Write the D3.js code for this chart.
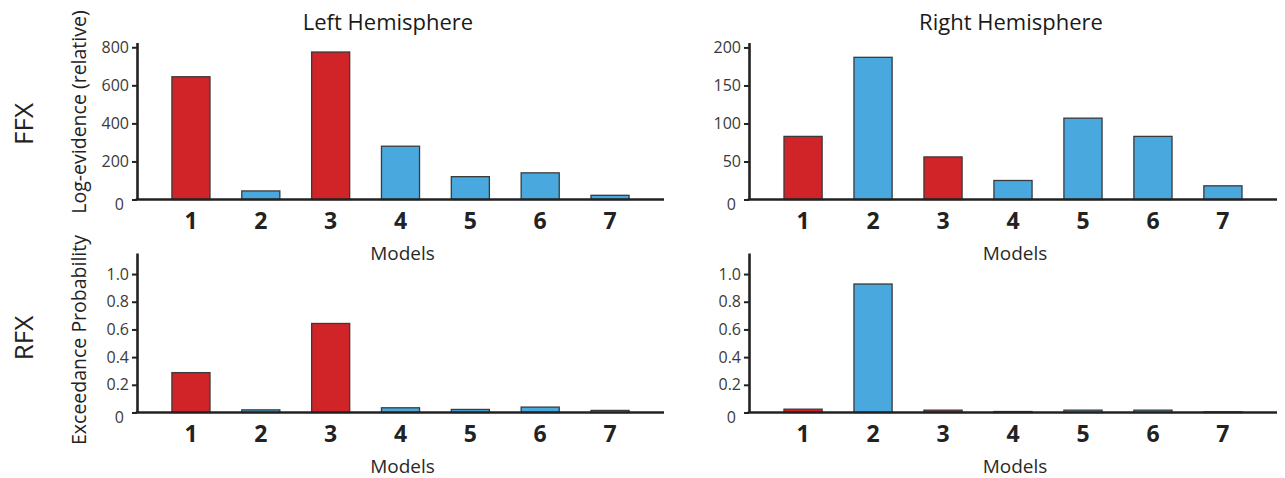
<!DOCTYPE html>
<html>
<head>
<meta charset="utf-8">
<script src="https://cdn.jsdelivr.net/npm/d3@7"></script>
<style>
  body { margin: 0; background: #fff; }
  svg text { font-family: "Open Sans", sans-serif; }
</style>
</head>
<body>
<script>
/* Chart data */
var models = ["1", "2", "3", "4", "5", "6", "7"];
var modelFamily = ["A", "B", "A", "B", "B", "B", "B"];

var ffxLeft = [645, 45, 775, 280, 120, 140, 22];
var ffxRight = [83, 187, 56, 25, 107, 83, 18];
var rfxLeft = [0.288, 0.019, 0.643, 0.034, 0.022, 0.039, 0.015];
var rfxRight = [0.024, 0.928, 0.017, 0.007, 0.017, 0.017, 0.005];

var ffxLeftTicks = [0, 200, 400, 600, 800];
var ffxRightTicks = [0, 50, 100, 150, 200];
var rfxTicks = [0, 0.2, 0.4, 0.6, 0.8, 1.0];

var columnTitles = ["Left Hemisphere", "Right Hemisphere"];
var rowTitles = ["FFX", "RFX"];
var rowAxisTitles = ["Log-evidence (relative)", "Exceedance Probability"];
var xTitle = "Models";

/* Size of svg and panel geometry */
var width = 1285;
var height = 478;
var colX = [[137, 664], [749, 1277]];   // left / right edge of each column
var rowY = [[199.5, 42.5], [412.5, 253]];  // baseline / axis top of each row
var titleX = [388, 1011];

var colour = d3.scaleOrdinal()
                .domain(["A", "B"])
                .range(["#d02428", "#49a9df"]);

var svg = d3.select("body").append("svg")
            .attr("width", width)
            .attr("height", height);

var panels = [
  {row: 0, col: 0, values: ffxLeft, ticks: ffxLeftTicks, max: 825},
  {row: 0, col: 1, values: ffxRight, ticks: ffxRightTicks, max: 206.5},
  {row: 1, col: 0, values: rfxLeft, ticks: rfxTicks, max: 1.152},
  {row: 1, col: 1, values: rfxRight, ticks: rfxTicks, max: 1.152}
];

function tickText(d) {
  if (d === 0) return "0";
  if (d < 1.5) return d3.format(".1f")(d);
  return d;
}

panels.forEach(function(p) {
  var x0 = colX[p.col][0], x1 = colX[p.col][1];
  var base = rowY[p.row][0], top = rowY[p.row][1];

  var x = d3.scaleBand()
            .domain(models)
            .range([x0, x1])
            .paddingInner(0.455)
            .paddingOuter(0.5);

  var y = d3.scaleLinear()
            .domain([0, p.max])
            .range([base, top]);

  var g = svg.append("g");

  /* bars */
  g.selectAll(".bar")
    .data(p.values)
    .enter()
    .append("rect")
    .attr("class", "bar")
    .attr("x", function(d, i) { return x(models[i]); })
    .attr("width", x.bandwidth())
    .attr("y", function(d) { return y(d); })
    .attr("height", function(d) { return base - y(d); })
    .attr("fill", function(d, i) { return colour(modelFamily[i]); })
    .attr("stroke", "#3a3a3a")
    .attr("stroke-width", 1.3);

  /* y axis */
  var yAxis = g.append("g")
               .attr("transform", "translate(" + x0 + ",0)")
               .call(d3.axisLeft(y)
                       .tickValues(p.ticks)
                       .tickFormat(tickText)
                       .tickSizeInner(5)
                       .tickSizeOuter(0)
                       .tickPadding(3));
  yAxis.select(".domain").attr("stroke", "#222").attr("stroke-width", 2.6);
  yAxis.selectAll(".tick line").attr("stroke", "#222").attr("stroke-width", 2);
  yAxis.selectAll(".tick text")
       .attr("font-size", 16)
       .attr("fill", "#3a3a3a")
       .style("font-family", "'Open Sans', sans-serif");
  // the zero label sits a little lower and apart from the axis
  yAxis.selectAll(".tick").filter(function(d) { return d === 0; })
       .select("text").attr("x", -13).attr("dy", "0.6em");

  /* x axis */
  var xAxis = g.append("g")
               .attr("transform", "translate(0," + base + ")")
               .call(d3.axisBottom(x).tickSize(0).tickPadding(13));
  xAxis.select(".domain")
       .attr("d", "M" + (x0 - 1.3) + ",0H" + x1)
       .attr("stroke", "#222").attr("stroke-width", 2.6);
  xAxis.selectAll(".tick text")
       .attr("font-size", 23)
       .attr("font-weight", "bold")
       .attr("fill", "#222")
       .style("font-family", "'Open Sans', sans-serif");

  g.append("text")
   .attr("x", (x0 + x1) / 2 + 2)
   .attr("y", base + 60)
   .attr("text-anchor", "middle")
   .attr("font-size", 19)
   .attr("fill", "#2a2a2a")
   .text(xTitle);
});

/* column titles */
svg.selectAll(".col-title")
   .data(columnTitles)
   .enter()
   .append("text")
   .attr("class", "col-title")
   .attr("x", function(d, i) { return titleX[i]; })
   .attr("y", 30)
   .attr("text-anchor", "middle")
   .attr("font-size", 22)
   .attr("fill", "#1a1a1a")
   .text(function(d) { return d; });

/* row titles */
svg.selectAll(".row-title")
   .data(rowTitles)
   .enter()
   .append("text")
   .attr("class", "row-title")
   .attr("transform", function(d, i) {
     return "translate(33," + [124, 338][i] + ") rotate(-90)";
   })
   .attr("text-anchor", "middle")
   .attr("font-size", 26)
   .attr("fill", "#222")
   .text(function(d) { return d; });

svg.selectAll(".row-axis-title")
   .data(rowAxisTitles)
   .enter()
   .append("text")
   .attr("class", "row-axis-title")
   .attr("transform", function(d, i) {
     return "translate(86," + [112, 340][i] + ") rotate(-90)";
   })
   .attr("text-anchor", "middle")
   .attr("font-size", 19.5)
   .attr("fill", "#222")
   .text(function(d) { return d; });
</script>
</body>
</html>
